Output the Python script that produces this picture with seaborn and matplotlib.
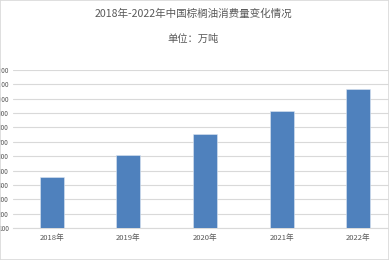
import matplotlib
matplotlib.use("Agg")
import matplotlib.pyplot as plt
import seaborn as sns
import pandas as pd
from matplotlib.patches import Rectangle

categories = ["2018年", "2019年", "2020年", "2021年", "2022年"]
values = [453, 606, 755, 913, 1068]
yticks = [100, 200, 300, 400, 500, 600, 700, 800, 900, 1000, 1100, 1200]
title = "2018年-2022年中国棕榈油消费量变化情况"
subtitle = "单位：万吨"

sns.set_theme(style="white")
plt.rcParams['font.family'] = ['Noto Sans CJK SC', 'DejaVu Sans']

df = pd.DataFrame({"year": categories, "value": values})

W, H = 389, 260
fig = plt.figure(figsize=(W / 100, H / 100), dpi=100)
left = 13.4 / W
width = 383.2 / W
bottom = 32 / H
height = 158 / H
ax = fig.add_axes([left, bottom, width, height])

sns.barplot(data=df, x="year", y="value", color="#4F81BD", width=0.313,
            saturation=1, ax=ax, edgecolor="#dce6f2", linewidth=0.4, zorder=3)

ax.set_ylim(100, 1200)
ax.set_yticks(yticks)
ax.set_yticklabels([str(t) for t in yticks], fontsize=4.6, color="#595959")
ax.set_xlim(-0.5, 4.5)
ax.tick_params(axis="x", labelsize=5.5, colors="#595959", length=0, pad=4)
ax.tick_params(axis="y", length=0, pad=3.3)
ax.grid(axis="y", color="#d9d9d9", linewidth=0.8, zorder=0)
ax.set_axisbelow(True)
for s in ["top", "right", "left"]:
    ax.spines[s].set_visible(False)
ax.spines["bottom"].set_color("#d9d9d9")
ax.spines["bottom"].set_linewidth(0.8)
ax.set_xlabel("")
ax.set_ylabel("")

fig.text(193.5 / W, 1 - 14 / H, title, ha="center", va="center",
         fontsize=7.6, color="#595959")
fig.text(193 / W, 1 - 38.5 / H, subtitle, ha="center", va="center",
         fontsize=7.4, color="#595959")

fig.patches.append(Rectangle((0, 0), 1, 1, transform=fig.transFigure,
                             fill=False, edgecolor="#d9d9d9", linewidth=1.2))

fig.savefig("out.png", dpi=100)
